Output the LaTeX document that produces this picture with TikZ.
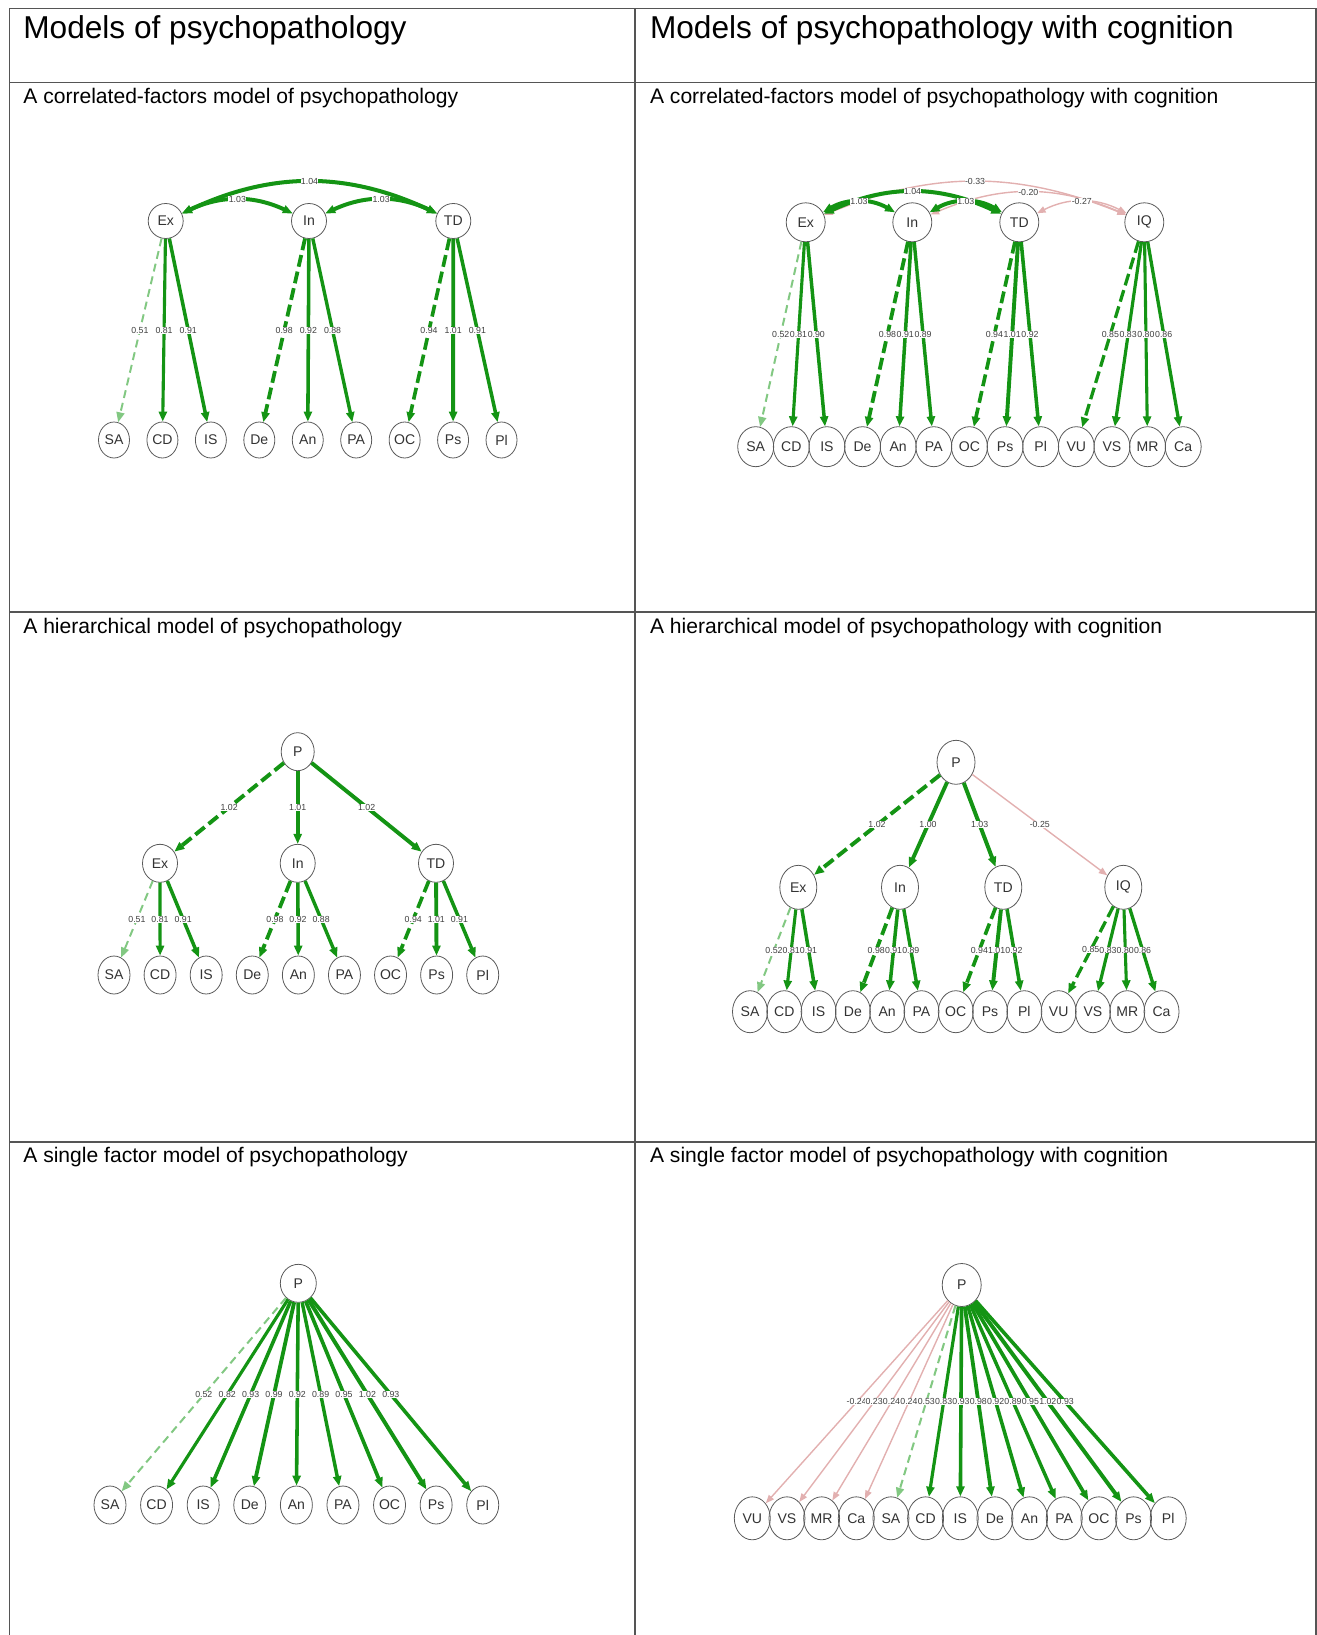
\documentclass[tikz,border=0pt]{standalone}
\usepackage{fontspec}
\setmainfont{Liberation Sans}
\usetikzlibrary{positioning, shapes.geometric, arrows.meta}
\definecolor{semg}{RGB}{20,148,20}
\definecolor{semgl}{RGB}{130,200,130}
\definecolor{semp}{RGB}{226,176,176}
\definecolor{rulegray}{RGB}{85,85,85}

\begin{document}
\begin{tikzpicture}[x=0.02cm, y=-0.02cm,
        hdr/.style={anchor=base west, inner sep=0pt, font=\fontsize{18}{18}\selectfont},
        ttl/.style={anchor=base west, inner sep=0pt, font=\fontsize{12}{12}\selectfont},
        var/.style={ellipse, draw=black!65, line width=0.45pt, inner sep=0pt, text=black!80,
                    font=\fontsize{8}{8}\selectfont},
        ld/.style={draw=semg, line width=#1*2.2pt, -{Triangle[length=0.2cm,width=0.16cm]}},
        cv/.style={draw=semg, line width=#1*2.2pt,
                   {Triangle[length=0.2cm,width=0.16cm]}-{Triangle[length=0.2cm,width=0.16cm]}},
        ng/.style={draw=semp, line width=0.8pt, -{Triangle[length=0.17cm,width=0.13cm]}},
        ngcv/.style={draw=semp, line width=0.8pt,
                     {Triangle[length=0.17cm,width=0.13cm]}-{Triangle[length=0.17cm,width=0.13cm]}},
        fd/.style={draw=semgl},
        fx/.style={dash pattern=on 0.24cm off 0.1cm},
        fxl/.style={dash pattern=on 0.16cm off 0.1cm},
        lab/.style={midway, fill=white, inner sep=0.2pt, text=black!75, font=\fontsize{5}{5}\selectfont}]

    \useasboundingbox (0,0) rectangle (1317,1635);

    % table
    \draw[rulegray, line width=0.9pt] (9.4,1640) -- (9.4,8.3) -- (1316,8.3) -- (1316,1640);
    \draw[rulegray, line width=0.9pt] (635,8.3) -- (635,1640);
    \draw[rulegray, line width=0.9pt] (9.4,82.4) -- (1316,82.4);
    \draw[rulegray, line width=0.9pt] (9.4,612.1) -- (1316,612.1);
    \draw[rulegray, line width=0.9pt] (9.4,1141.8) -- (1316,1141.8);

    \node (hdL) [hdr] at (23,38.6)    {Models of psychopathology};
    \node (hdR) [hdr] at (649.7,38.6) {Models of psychopathology with cognition};
    \node (ttlA) [ttl] at (23,103.3)    {A correlated-factors model of psychopathology};
    \node (ttlB) [ttl] at (649.7,103.3) {A correlated-factors model of psychopathology with cognition};
    \node (ttlC) [ttl] at (23,633)      {A hierarchical model of psychopathology};
    \node (ttlD) [ttl] at (649.7,633)   {A hierarchical model of psychopathology with cognition};
    \node (ttlE) [ttl] at (23,1162.7)   {A single factor model of psychopathology};
    \node (ttlF) [ttl] at (649.7,1162.7){A single factor model of psychopathology with cognition};

    % correlated factors
    \begin{scope}[node distance=0.969cm,
            lat/.style={var, minimum width=0.7cm, minimum height=0.7cm},
            obs/.style={var, minimum width=0.62cm, minimum height=0.72cm}]
        \node (Ex1) [lat] at (165.7,221) {Ex};
        \node (In1) [lat] at (309,221)   {In};
        \node (TD1) [lat] at (453.3,221) {TD};
        \node (SA1) [obs] at (114,440)   {SA};
        \node (CD1) [obs, right of=SA1]  {CD};
        \node (IS1) [obs, right of=CD1]  {IS};
        \node (De1) [obs, right of=IS1]  {De};
        \node (An1) [obs, right of=De1]  {An};
        \node (PA1) [obs, right of=An1]  {PA};
        \node (OC1) [obs, right of=PA1]  {OC};
        \node (Ps1) [obs, right of=OC1]  {Ps};
        \node (Pl1) [obs, right of=Ps1]  {Pl};

        \draw[ld=0.51, fd, fxl] (Ex1) -- (SA1) node[lab]{0.51};
        \draw[ld=0.81] (Ex1) -- (CD1) node[lab]{0.81};
        \draw[ld=0.91] (Ex1) -- (IS1) node[lab]{0.91};
        \draw[ld=0.98, fx] (In1) -- (De1) node[lab]{0.98};
        \draw[ld=0.92] (In1) -- (An1) node[lab]{0.92};
        \draw[ld=0.88] (In1) -- (PA1) node[lab]{0.88};
        \draw[ld=0.94, fx] (TD1) -- (OC1) node[lab]{0.94};
        \draw[ld=1.01] (TD1) -- (Ps1) node[lab]{1.01};
        \draw[ld=0.91] (TD1) -- (Pl1) node[lab]{0.91};

        \draw[cv=1.04] (Ex1) to[bend left=25] node[lab]{1.04} (TD1);
        \draw[cv=1.03] (Ex1) to[bend left=25] node[lab]{1.03} (In1);
        \draw[cv=1.03] (In1) to[bend left=25] node[lab]{1.03} (TD1);
    \end{scope}

    % correlated factors with cognition
    \begin{scope}[node distance=0.7126cm,
            lat/.style={var, minimum width=0.78cm, minimum height=0.78cm},
            obs/.style={var, minimum width=0.72cm, minimum height=0.8cm}]
        \node (Ex2) [lat] at (805.7,222.3)  {Ex};
        \node (In2) [lat] at (912.3,222.3)  {In};
        \node (TD2) [lat] at (1019.3,222.3) {TD};
        \node (IQ2) [lat] at (1144.3,222.3) {IQ};
        \node (SA2) [obs] at (755.7,446.7)  {SA};
        \node (CD2) [obs, right of=SA2] {CD};
        \node (IS2) [obs, right of=CD2] {IS};
        \node (De2) [obs, right of=IS2] {De};
        \node (An2) [obs, right of=De2] {An};
        \node (PA2) [obs, right of=An2] {PA};
        \node (OC2) [obs, right of=PA2] {OC};
        \node (Ps2) [obs, right of=OC2] {Ps};
        \node (Pl2) [obs, right of=Ps2] {Pl};
        \node (VU2) [obs, right of=Pl2] {VU};
        \node (VS2) [obs, right of=VU2] {VS};
        \node (MR2) [obs, right of=VS2] {MR};
        \node (Ca2) [obs, right of=MR2] {Ca};

        \draw[ld=0.52, fd, fxl] (Ex2) -- (SA2) node[lab]{0.52};
        \draw[ld=0.81] (Ex2) -- (CD2) node[lab]{0.81};
        \draw[ld=0.90] (Ex2) -- (IS2) node[lab]{0.90};
        \draw[ld=0.98, fx] (In2) -- (De2) node[lab]{0.98};
        \draw[ld=0.91] (In2) -- (An2) node[lab]{0.91};
        \draw[ld=0.89] (In2) -- (PA2) node[lab]{0.89};
        \draw[ld=0.94, fx] (TD2) -- (OC2) node[lab]{0.94};
        \draw[ld=1.01] (TD2) -- (Ps2) node[lab]{1.01};
        \draw[ld=0.92] (TD2) -- (Pl2) node[lab]{0.92};
        \draw[ld=0.85, fx] (IQ2) -- (VU2) node[lab]{0.85};
        \draw[ld=0.83] (IQ2) -- (VS2) node[lab]{0.83};
        \draw[ld=0.80] (IQ2) -- (MR2) node[lab]{0.80};
        \draw[ld=0.86] (IQ2) -- (Ca2) node[lab]{0.86};

        \draw[ngcv] (Ex2) to[bend left=22] node[lab]{-0.33} (IQ2);
        \draw[ngcv] (In2) to[bend left=23] node[lab]{-0.20} (IQ2);
        \draw[ngcv] (TD2) to[bend left=27] node[lab]{-0.27} (IQ2);
        \draw[cv=1.04] (Ex2) to[bend left=25] node[lab]{1.04} (TD2);
        \draw[cv=1.03] (Ex2) to[bend left=30] node[lab]{1.03} (In2);
        \draw[cv=1.03] (In2) to[bend left=30] node[lab]{1.03} (TD2);
    \end{scope}

    % hierarchical
    \begin{scope}[node distance=0.922cm,
            lat/.style={var, minimum width=0.7cm, minimum height=0.76cm},
            obs/.style={var, minimum width=0.64cm, minimum height=0.76cm}]
        \node (P3)  [lat, minimum width=0.66cm] at (297.7,751.7) {P};
        \node (Ex3) [lat] at (160,863.3)   {Ex};
        \node (In3) [lat] at (297.7,863.3) {In};
        \node (TD3) [lat] at (436,863.3)   {TD};
        \node (SA3) [obs] at (114,975)     {SA};
        \node (CD3) [obs, right of=SA3] {CD};
        \node (IS3) [obs, right of=CD3] {IS};
        \node (De3) [obs, right of=IS3] {De};
        \node (An3) [obs, right of=De3] {An};
        \node (PA3) [obs, right of=An3] {PA};
        \node (OC3) [obs, right of=PA3] {OC};
        \node (Ps3) [obs, right of=OC3] {Ps};
        \node (Pl3) [obs, right of=Ps3] {Pl};

        \draw[ld=1.02, fx] (P3) -- (Ex3) node[lab]{1.02};
        \draw[ld=1.01] (P3) -- (In3) node[lab]{1.01};
        \draw[ld=1.02] (P3) -- (TD3) node[lab]{1.02};
        \draw[ld=0.51, fd, fxl] (Ex3) -- (SA3) node[lab]{0.51};
        \draw[ld=0.81] (Ex3) -- (CD3) node[lab]{0.81};
        \draw[ld=0.91] (Ex3) -- (IS3) node[lab]{0.91};
        \draw[ld=0.98, fx] (In3) -- (De3) node[lab]{0.98};
        \draw[ld=0.92] (In3) -- (An3) node[lab]{0.92};
        \draw[ld=0.88] (In3) -- (PA3) node[lab]{0.88};
        \draw[ld=0.94, fx] (TD3) -- (OC3) node[lab]{0.94};
        \draw[ld=1.01] (TD3) -- (Ps3) node[lab]{1.01};
        \draw[ld=0.91] (TD3) -- (Pl3) node[lab]{0.91};
    \end{scope}

    % hierarchical with cognition
    \begin{scope}[node distance=0.686cm,
            lat/.style={var, minimum width=0.74cm, minimum height=0.88cm},
            obs/.style={var, minimum width=0.7cm, minimum height=0.84cm}]
        \node (P4)  [lat, minimum width=0.76cm] at (956,762.3) {P};
        \node (Ex4) [lat] at (798.3,887.3)  {Ex};
        \node (In4) [lat] at (900,887.3)    {In};
        \node (TD4) [lat] at (1003.3,887.3) {TD};
        \node (IQ4) [lat] at (1123.3,887.3) {IQ};
        \node (SA4) [obs] at (750,1011.7)   {SA};
        \node (CD4) [obs, right of=SA4] {CD};
        \node (IS4) [obs, right of=CD4] {IS};
        \node (De4) [obs, right of=IS4] {De};
        \node (An4) [obs, right of=De4] {An};
        \node (PA4) [obs, right of=An4] {PA};
        \node (OC4) [obs, right of=PA4] {OC};
        \node (Ps4) [obs, right of=OC4] {Ps};
        \node (Pl4) [obs, right of=Ps4] {Pl};
        \node (VU4) [obs, right of=Pl4] {VU};
        \node (VS4) [obs, right of=VU4] {VS};
        \node (MR4) [obs, right of=VS4] {MR};
        \node (Ca4) [obs, right of=MR4] {Ca};

        \draw[ld=1.02, fx] (P4) -- (Ex4) node[lab]{1.02};
        \draw[ld=1.00] (P4) -- (In4) node[lab]{1.00};
        \draw[ld=1.03] (P4) -- (TD4) node[lab]{1.03};
        \draw[ng] (P4) -- (IQ4) node[lab]{-0.25};
        \draw[ld=0.52, fd, fxl] (Ex4) -- (SA4) node[lab]{0.52};
        \draw[ld=0.81] (Ex4) -- (CD4) node[lab]{0.81};
        \draw[ld=0.91] (Ex4) -- (IS4) node[lab]{0.91};
        \draw[ld=0.98, fx] (In4) -- (De4) node[lab]{0.98};
        \draw[ld=0.91] (In4) -- (An4) node[lab]{0.91};
        \draw[ld=0.89] (In4) -- (PA4) node[lab]{0.89};
        \draw[ld=0.94, fx] (TD4) -- (OC4) node[lab]{0.94};
        \draw[ld=1.01] (TD4) -- (Ps4) node[lab]{1.01};
        \draw[ld=0.92] (TD4) -- (Pl4) node[lab]{0.92};
        \draw[ld=0.85, fx] (IQ4) -- (VU4) node[lab]{0.85};
        \draw[ld=0.83] (IQ4) -- (VS4) node[lab]{0.83};
        \draw[ld=0.80] (IQ4) -- (MR4) node[lab]{0.80};
        \draw[ld=0.86] (IQ4) -- (Ca4) node[lab]{0.86};
    \end{scope}

    % single factor
    \begin{scope}[node distance=0.932cm,
            lat/.style={var, minimum width=0.72cm, minimum height=0.76cm},
            obs/.style={var, minimum width=0.64cm, minimum height=0.76cm}]
        \node (P5)  [lat] at (298.3,1283.3) {P};
        \node (SA5) [obs] at (110,1505)     {SA};
        \node (CD5) [obs, right of=SA5] {CD};
        \node (IS5) [obs, right of=CD5] {IS};
        \node (De5) [obs, right of=IS5] {De};
        \node (An5) [obs, right of=De5] {An};
        \node (PA5) [obs, right of=An5] {PA};
        \node (OC5) [obs, right of=PA5] {OC};
        \node (Ps5) [obs, right of=OC5] {Ps};
        \node (Pl5) [obs, right of=Ps5] {Pl};

        \draw[ld=0.52, fd, fxl] (P5) -- (SA5) node[lab]{0.52};
        \draw[ld=0.82] (P5) -- (CD5) node[lab]{0.82};
        \draw[ld=0.93] (P5) -- (IS5) node[lab]{0.93};
        \draw[ld=0.99] (P5) -- (De5) node[lab]{0.99};
        \draw[ld=0.92] (P5) -- (An5) node[lab]{0.92};
        \draw[ld=0.89] (P5) -- (PA5) node[lab]{0.89};
        \draw[ld=0.95] (P5) -- (OC5) node[lab]{0.95};
        \draw[ld=1.02] (P5) -- (Ps5) node[lab]{1.02};
        \draw[ld=0.93] (P5) -- (Pl5) node[lab]{0.93};
    \end{scope}

    % single factor with cognition
    \begin{scope}[node distance=0.6933cm,
            lat/.style={var, minimum width=0.78cm, minimum height=0.86cm},
            obs/.style={var, minimum width=0.72cm, minimum height=0.86cm}]
        \node (P6)  [lat] at (961.7,1285)   {P};
        \node (VU6) [obs] at (752.3,1518.3) {VU};
        \node (VS6) [obs, right of=VU6] {VS};
        \node (MR6) [obs, right of=VS6] {MR};
        \node (Ca6) [obs, right of=MR6] {Ca};
        \node (SA6) [obs, right of=Ca6] {SA};
        \node (CD6) [obs, right of=SA6] {CD};
        \node (IS6) [obs, right of=CD6] {IS};
        \node (De6) [obs, right of=IS6] {De};
        \node (An6) [obs, right of=De6] {An};
        \node (PA6) [obs, right of=An6] {PA};
        \node (OC6) [obs, right of=PA6] {OC};
        \node (Ps6) [obs, right of=OC6] {Ps};
        \node (Pl6) [obs, right of=Ps6] {Pl};

        \draw[ng] (P6) -- (VU6) node[lab]{-0.24};
        \draw[ng] (P6) -- (VS6) node[lab]{0.23};
        \draw[ng] (P6) -- (MR6) node[lab]{0.24};
        \draw[ng] (P6) -- (Ca6) node[lab]{0.24};
        \draw[ld=0.53, fd, fxl] (P6) -- (SA6) node[lab]{0.53};
        \draw[ld=0.83] (P6) -- (CD6) node[lab]{0.83};
        \draw[ld=0.93] (P6) -- (IS6) node[lab]{0.93};
        \draw[ld=0.98] (P6) -- (De6) node[lab]{0.98};
        \draw[ld=0.92] (P6) -- (An6) node[lab]{0.92};
        \draw[ld=0.89] (P6) -- (PA6) node[lab]{0.89};
        \draw[ld=0.95] (P6) -- (OC6) node[lab]{0.95};
        \draw[ld=1.02] (P6) -- (Ps6) node[lab]{1.02};
        \draw[ld=0.93] (P6) -- (Pl6) node[lab]{0.93};
    \end{scope}
\end{tikzpicture}
\end{document}
